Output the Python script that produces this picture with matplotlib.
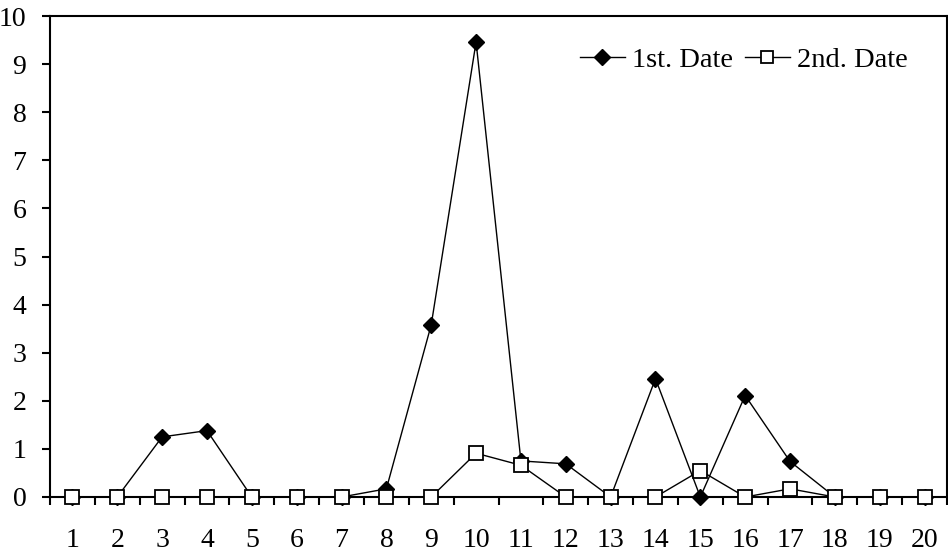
import numpy as np
import matplotlib
matplotlib.use("Agg")
import matplotlib.pyplot as plt
from matplotlib.ticker import FixedLocator

plt.rcParams['font.family'] = ['Liberation Serif', 'DejaVu Serif']

categories = list(range(1, 21))
first_date = [0, 0, 1.25, 1.38, 0, 0, 0, 0.17, 3.58, 9.46,
              0.75, 0.69, 0, 2.46, 0, 2.11, 0.74, 0, 0, 0]
second_date = [0, 0, 0, 0, 0, 0, 0, 0, 0, 0.91,
               0.66, 0, 0, 0, 0.55, 0, 0.17, 0, 0, 0]

fig = plt.figure(figsize=(9.48, 5.55), dpi=100)
ax = fig.add_axes([50 / 948, 1 - 497 / 555, 897 / 948, 481 / 555])

ax.plot(categories, first_date, color='black', lw=1.0, marker='D',
        markersize=8.5, markerfacecolor='black', markeredgecolor='black',
        label='1st. Date', clip_on=False, zorder=3)
ax.plot(categories, second_date, color='black', lw=1.0, marker='s',
        markersize=9.5, markerfacecolor='white', markeredgecolor='black',
        markeredgewidth=1.3, label='2nd. Date', clip_on=False, zorder=4)

ax.set_xlim(0.5, 20.5)
ax.set_ylim(0, 10)
ax.set_yticks(range(0, 11))
ax.set_xticks(categories)
ax.xaxis.set_minor_locator(FixedLocator(np.arange(0.5, 21, 1)))
ax.tick_params(axis='x', which='major', length=0, pad=22, labelsize=20)
ax.tick_params(axis='x', which='minor', length=6, width=1.5, direction='out')
ax.tick_params(axis='y', which='major', length=6, width=1.5, direction='out',
               pad=11, labelsize=20)

for s in ax.spines.values():
    s.set_linewidth(1.5)

ax.legend(loc='upper right', bbox_to_anchor=(908 / 948, 1 - 47 / 555),
          bbox_transform=fig.transFigure, ncol=2, frameon=False,
          fontsize=20.5, handlelength=1.6, handletextpad=0.25,
          columnspacing=0.4, borderaxespad=0, borderpad=0, markerscale=0.95)

fig.savefig('out.png', dpi=100)
